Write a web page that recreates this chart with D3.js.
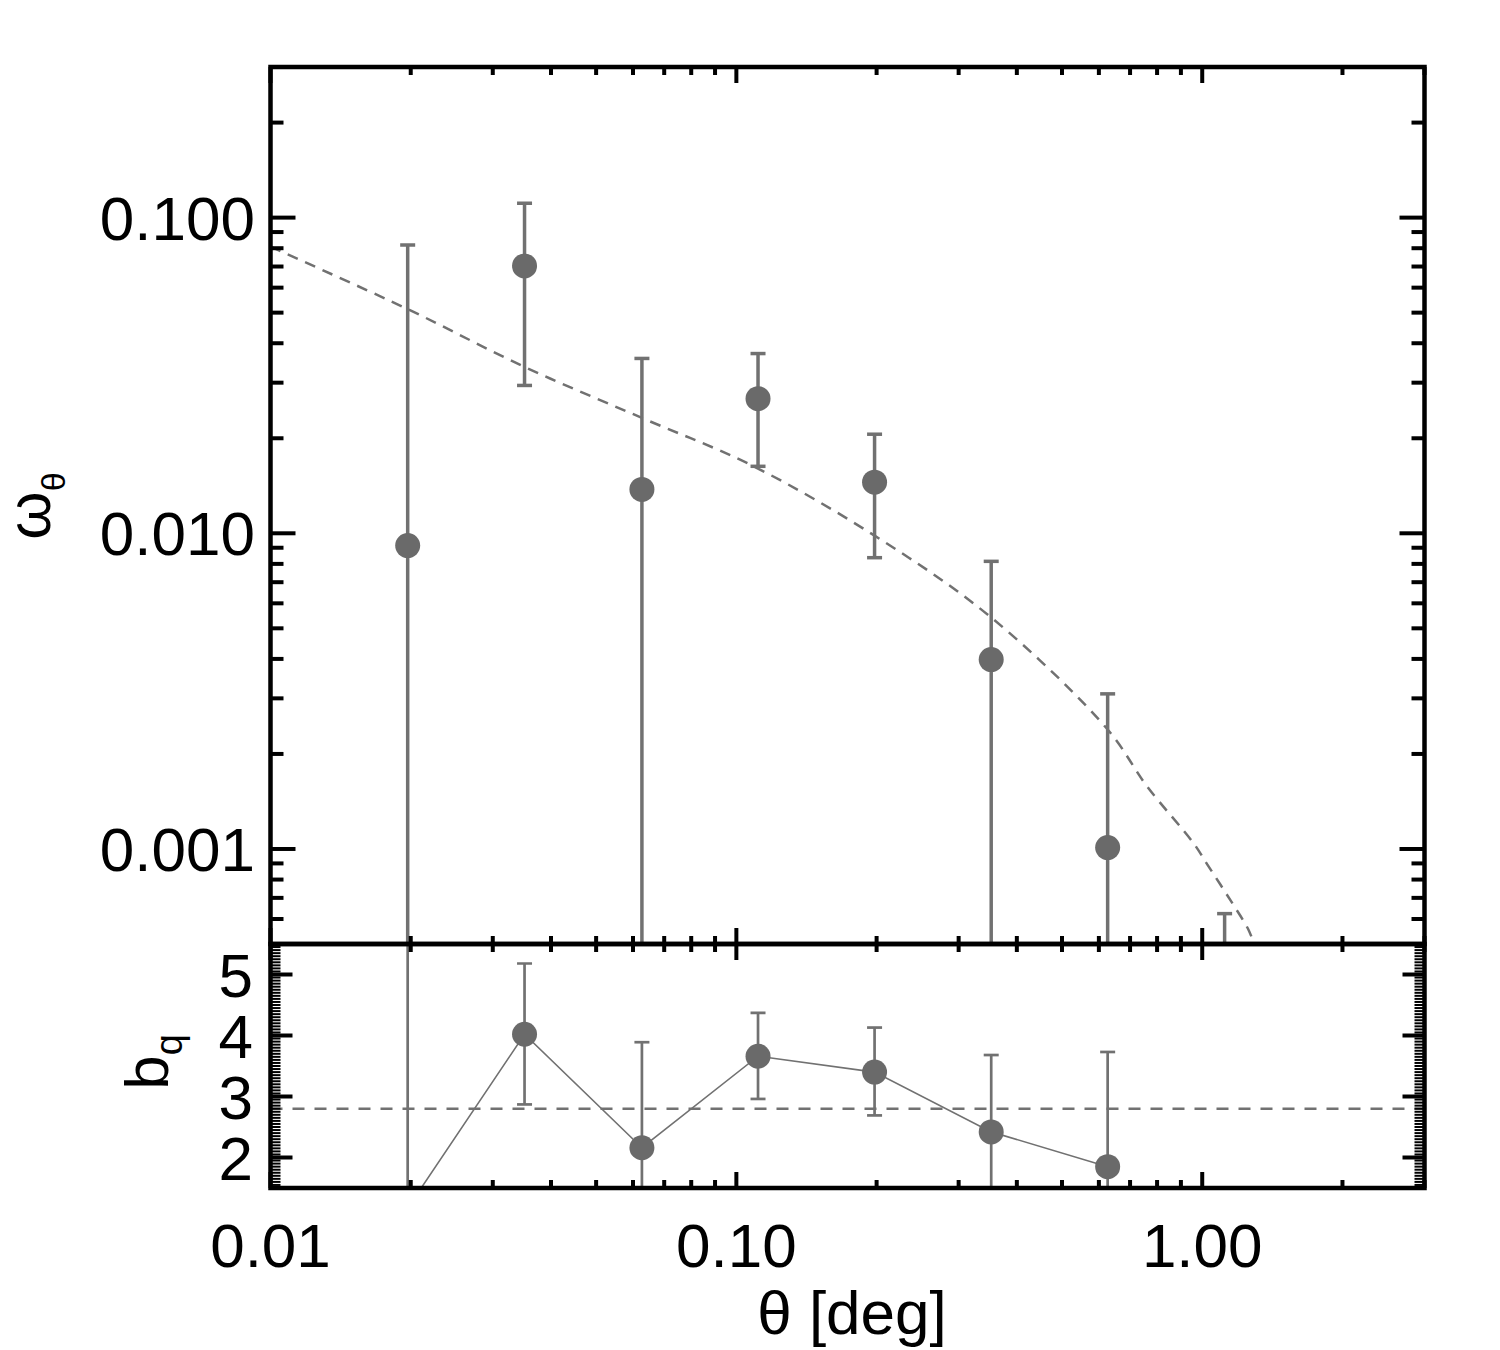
<!DOCTYPE html>
<html>
<head>
<meta charset="utf-8">
<script src="https://cdn.jsdelivr.net/npm/d3@7"></script>
<style>
  body { margin: 0; background: #fff; }
  text { font-family: "Liberation Sans", Arial, Helvetica, sans-serif; fill: #000; }
</style>
</head>
<body>
<div id="chart"></div>
<script>
// angular bins (deg)
const theta   = [0.0197, 0.0351, 0.0627, 0.1113, 0.198, 0.3524, 0.6266, 1.117];
// correlation function w(theta), null = below plotted range
const wTheta  = [0.00914, 0.0703, 0.01377, 0.0267, 0.01452, 0.00398, 0.00101, null];
const wUpper  = [0.0819, 0.111, 0.0358, 0.0371, 0.0206, 0.00815, 0.0031, 0.000624];
const wLower  = [null, 0.0294, null, 0.0163, 0.00837, null, null, null];

// model curve
const modelTheta = [0.01, 0.0197, 0.0351, 0.0627, 0.108, 0.198, 0.3524, 0.6266, 0.761, 0.958, 1.025, 1.154, 1.256, 1.29];
const modelW     = [0.0809, 0.0513, 0.03365, 0.0232, 0.0164, 0.00983, 0.00541, 0.00239, 0.00158, 0.001043, 0.000894, 0.000682, 0.000556, 0.000503];

// bias per bin (first 7 bins)
const bq      = [1.17, 4.02, 2.16, 3.66, 3.40, 2.42, 1.85];
const bqUpper = [null, 5.18, 3.89, 4.37, 4.13, 3.68, 3.73];
const bqLower = [null, 2.87, null, 2.96, 2.69, null, null];
const bqFit = 2.8;

const xLabels   = [0.01, 0.1, 1];
const yTopMajor = [0.001, 0.01, 0.1];
const yBotMajor = [2, 3, 4, 5];

const WIDTH = 1500, HEIGHT = 1350;
const L = 270.5, R = 1424.5, T = 67, MID = 944, B = 1188;
const GREY = "#717171", DOT = "#6a6a6a";

const svg = d3.select("#chart").append("svg")
  .attr("width", WIDTH).attr("height", HEIGHT);

const x = d3.scaleLog().domain([0.01, 3]).range([L, R]);
const yTop = d3.scaleLog().domain([0.0005, 0.3]).range([MID, T]);
const yBot = d3.scaleLinear().domain([1.5, 5.5]).range([B, MID]);

const defs = svg.append("defs");
defs.append("clipPath").attr("id", "clipTop").append("rect")
  .attr("x", L).attr("y", T).attr("width", R - L).attr("height", MID - T);
defs.append("clipPath").attr("id", "clipBot").append("rect")
  .attr("x", L).attr("y", MID).attr("width", R - L).attr("height", B - MID);

// ---- top panel data
const gTop = svg.append("g").attr("clip-path", "url(#clipTop)");
const wData = theta.map((t, i) => ({ t, v: wTheta[i], hi: wUpper[i], lo: wLower[i] }));

gTop.append("path")
  .datum(modelTheta.map((t, i) => [t, modelW[i]]))
  .attr("fill", "none").attr("stroke", GREY).attr("stroke-width", 2.5)
  .attr("stroke-dasharray", "11,8")
  .attr("d", d3.line().x(d => x(d[0])).y(d => yTop(d[1])).curve(d3.curveCatmullRom.alpha(0.5)));

gTop.selectAll(".bar").data(wData).join("line")
  .attr("x1", d => x(d.t)).attr("x2", d => x(d.t))
  .attr("y1", d => d.lo == null ? MID + 10 : yTop(d.lo))
  .attr("y2", d => yTop(d.hi))
  .attr("stroke", GREY).attr("stroke-width", 3.5);

const capsTop = wData.flatMap(d => [d.hi, d.lo].filter(v => v != null).map(v => ({ t: d.t, v })));
gTop.selectAll(".cap").data(capsTop).join("line")
  .attr("x1", d => x(d.t) - 7.5).attr("x2", d => x(d.t) + 7.5)
  .attr("y1", d => yTop(d.v)).attr("y2", d => yTop(d.v))
  .attr("stroke", GREY).attr("stroke-width", 3.5);

gTop.selectAll(".dot").data(wData.filter(d => d.v != null)).join("circle")
  .attr("cx", d => x(d.t)).attr("cy", d => yTop(d.v)).attr("r", 12.5)
  .attr("fill", DOT);

// ---- bottom panel data
const gBot = svg.append("g").attr("clip-path", "url(#clipBot)");
const bData = bq.map((v, i) => ({ t: theta[i], v, hi: bqUpper[i], lo: bqLower[i] }));

gBot.append("line")
  .attr("x1", L).attr("x2", R).attr("y1", yBot(bqFit)).attr("y2", yBot(bqFit))
  .attr("stroke", GREY).attr("stroke-width", 2.5).attr("stroke-dasharray", "12,10");

gBot.append("path").datum(bData)
  .attr("fill", "none").attr("stroke", GREY).attr("stroke-width", 1.6)
  .attr("d", d3.line().x(d => x(d.t)).y(d => yBot(d.v)));

gBot.selectAll(".bar").data(bData).join("line")
  .attr("x1", d => x(d.t)).attr("x2", d => x(d.t))
  .attr("y1", d => d.lo == null ? B + 10 : yBot(d.lo))
  .attr("y2", d => d.hi == null ? MID - 10 : yBot(d.hi))
  .attr("stroke", GREY).attr("stroke-width", 2.7);

const capsBot = bData.flatMap(d => [d.hi, d.lo].filter(v => v != null).map(v => ({ t: d.t, v })));
gBot.selectAll(".cap").data(capsBot).join("line")
  .attr("x1", d => x(d.t) - 7.5).attr("x2", d => x(d.t) + 7.5)
  .attr("y1", d => yBot(d.v)).attr("y2", d => yBot(d.v))
  .attr("stroke", GREY).attr("stroke-width", 2.7);

gBot.selectAll(".dot").data(bData).join("circle")
  .attr("cx", d => x(d.t)).attr("cy", d => yBot(d.v)).attr("r", 12.5)
  .attr("fill", DOT);

// ---- axes (IDL-style ticks on all sides)
const ax = svg.append("g").attr("stroke", "#000");
const isMajorX = v => xLabels.some(m => Math.abs(v / m - 1) < 1e-6);
const isMajorY = v => yTopMajor.some(m => Math.abs(v / m - 1) < 1e-6);

function xTicks(y0, dir) {
  ax.append("g").selectAll("line").data(x.ticks()).join("line")
    .attr("x1", d => x(d)).attr("x2", d => x(d))
    .attr("y1", y0).attr("y2", d => y0 + dir * (isMajorX(d) ? 16 : 8))
    .attr("stroke-width", 4);
}
xTicks(T, 1);
xTicks(MID, -1);
xTicks(MID, 1);
xTicks(B, -1);

[L, R].forEach((x0, k) => {
  const dir = k === 0 ? 1 : -1;
  ax.append("g").selectAll("line").data(yTop.ticks()).join("line")
    .attr("x1", x0).attr("x2", d => x0 + dir * (isMajorY(d) ? 25 : 13))
    .attr("y1", d => yTop(d)).attr("y2", d => yTop(d))
    .attr("stroke-width", 4);
  ax.append("g").selectAll("line").data(d3.range(31, 110).map(i => i / 20)).join("line")
    .attr("x1", x0).attr("x2", d => x0 + dir * (Number.isInteger(d) ? 22 : 10))
    .attr("y1", d => yBot(d)).attr("y2", d => yBot(d))
    .attr("stroke-width", d => Number.isInteger(d) ? 4 : 2);
});

// frames
[[T, MID], [MID, B]].forEach(([y0, y1]) => {
  svg.append("rect").attr("x", L).attr("y", y0).attr("width", R - L).attr("height", y1 - y0)
    .attr("fill", "none").attr("stroke", "#000").attr("stroke-width", 4.5);
});

// ---- labels
const FS = 62;
svg.append("g").selectAll("text").data(xLabels).join("text")
  .attr("x", d => x(d)).attr("y", 1267).attr("text-anchor", "middle")
  .attr("font-size", FS).text(d => d3.format(".2f")(d));

svg.append("g").selectAll("text").data(yTopMajor).join("text")
  .attr("x", 255).attr("y", d => yTop(d) + 22).attr("text-anchor", "end")
  .attr("font-size", FS).text(d => d3.format(".3f")(d));

svg.append("g").selectAll("text").data(yBotMajor).join("text")
  .attr("x", 253).attr("y", d => yBot(d) + 22).attr("text-anchor", "end")
  .attr("font-size", FS).text(d => d);

svg.append("text").attr("x", 852).attr("y", 1334).attr("text-anchor", "middle")
  .attr("font-size", FS).text("θ [deg]");

const yl = svg.append("text").attr("transform", "translate(50,506) rotate(-90)")
  .attr("text-anchor", "middle").attr("font-size", FS);
yl.append("tspan").text("ω");
yl.append("tspan").attr("dy", 15).attr("font-size", 34).text("θ");

const bl = svg.append("text").attr("transform", "translate(168,1062) rotate(-90)")
  .attr("text-anchor", "middle").attr("font-size", FS);
bl.append("tspan").text("b");
bl.append("tspan").attr("dy", 14).attr("font-size", 38).text("q");
</script>
</body>
</html>
